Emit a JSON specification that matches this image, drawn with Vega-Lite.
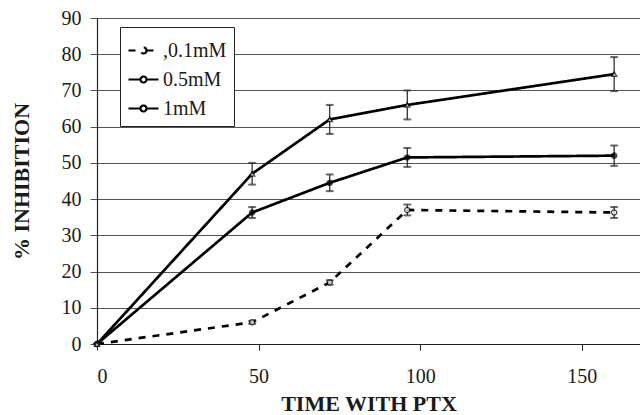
{
  "$schema": "https://vega.github.io/schema/vega-lite/v6.json",
  "width": 543,
  "height": 326,
  "autosize": "none",
  "padding": {"left": 97, "top": 18, "right": 0, "bottom": 71},
  "background": "white",
  "config": {
    "font": "Liberation Serif",
    "view": {"stroke": null},
    "axisX": {
      "grid": false, "tickCount": 4,
      "domainColor": "#222", "domainWidth": 1.2,
      "tickColor": "#222", "tickSize": 6,
      "labelFontSize": 20, "labelColor": "#1a1a1a", "labelPadding": 16,
      "titleFontSize": 22, "titleFontWeight": "bold", "titleColor": "#1a1a1a",
      "titleBaseline": "alphabetic", "titleY": 66
    },
    "axisY": {
      "grid": true, "gridColor": "#555", "gridWidth": 1, "tickCount": 10,
      "domainColor": "#222", "domainWidth": 1.2,
      "tickColor": "#555", "tickSize": 7,
      "labelFontSize": 20, "labelColor": "#1a1a1a", "labelPadding": 9,
      "titleFontSize": 22, "titleFontWeight": "bold", "titleColor": "#1a1a1a",
      "titleBaseline": "alphabetic", "titleX": -69
    }
  },
  "data": {
    "values": [
      {"series": ",0.1mM", "t": 0, "y": 0, "lo": 0, "hi": 0},
      {"series": ",0.1mM", "t": 48, "y": 6, "lo": 5.6, "hi": 6.4},
      {"series": ",0.1mM", "t": 72, "y": 17, "lo": 16.4, "hi": 17.6},
      {"series": ",0.1mM", "t": 96, "y": 37, "lo": 35.5, "hi": 38.5},
      {"series": ",0.1mM", "t": 160, "y": 36.3, "lo": 34.8, "hi": 37.8},
      {"series": "0.5mM", "t": 0, "y": 0, "lo": 0, "hi": 0},
      {"series": "0.5mM", "t": 48, "y": 36.3, "lo": 34.8, "hi": 37.8},
      {"series": "0.5mM", "t": 72, "y": 44.5, "lo": 42.2, "hi": 46.8},
      {"series": "0.5mM", "t": 96, "y": 51.5, "lo": 48.9, "hi": 54.1},
      {"series": "0.5mM", "t": 160, "y": 52, "lo": 49.2, "hi": 54.8},
      {"series": "1mM", "t": 0, "y": 0, "lo": 0, "hi": 0},
      {"series": "1mM", "t": 48, "y": 47, "lo": 44, "hi": 50},
      {"series": "1mM", "t": 72, "y": 62, "lo": 58, "hi": 66},
      {"series": "1mM", "t": 96, "y": 66, "lo": 62, "hi": 70},
      {"series": "1mM", "t": 160, "y": 74.5, "lo": 69.8, "hi": 79.2}
    ]
  },
  "encoding": {
    "x": {
      "field": "t", "type": "quantitative", "title": "TIME WITH PTX",
      "scale": {"domain": [0, 168], "nice": false}
    },
    "y": {
      "field": "y", "type": "quantitative", "title": "% INHIBITION",
      "scale": {"domain": [0, 90], "nice": false}
    }
  },
  "layer": [
    {
      "mark": {"type": "line", "stroke": "black", "strokeWidth": 2.7},
      "encoding": {
        "strokeDash": {
          "field": "series", "type": "nominal",
          "scale": {"domain": [",0.1mM", "0.5mM", "1mM"], "range": [[7, 7], [1, 0], [1, 0]]},
          "legend": {
            "title": null,
            "orient": "none",
            "legendX": 23,
            "legendY": 9,
            "strokeColor": "#222",
            "fillColor": "white",
            "padding": 7,
            "rowPadding": 2,
            "symbolType": "M-1,0H-0.2M0.2,0H1M0.2,0A0.2,0.2 0 1,1 -0.2,0A0.2,0.2 0 1,1 0.2,0",
            "symbolSize": 900,
            "symbolStrokeColor": "black",
            "symbolStrokeWidth": 2.2,
            "symbolFillColor": "white",
            "symbolDash": [4, 3],
            "labelFontSize": 20,
            "labelColor": "#1a1a1a",
            "labelOffset": 3
          }
        }
      }
    },
    {
      "mark": {"type": "errorbar", "ticks": {"size": 7, "stroke": "#222"}, "rule": {"stroke": "#222", "strokeWidth": 1.2}},
      "encoding": {
        "y": {"field": "lo", "type": "quantitative", "title": "% INHIBITION"},
        "y2": {"field": "hi"}
      }
    },
    {
      "mark": {"type": "point", "filled": true, "stroke": "black", "strokeWidth": 1.3, "size": 28},
      "encoding": {
        "fill": {"condition": {"test": "datum.series == '0.5mM'", "value": "black"}, "value": "white"},
        "shape": {"condition": {"test": "datum.series == '1mM'", "value": "triangle-up"}, "value": "circle"}
      }
    }
  ]
}
